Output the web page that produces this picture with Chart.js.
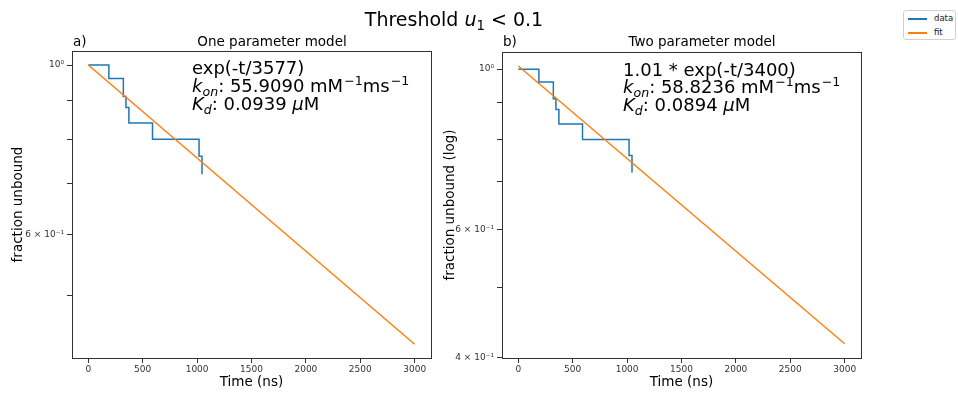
<!DOCTYPE html>
<html>
<head>
<meta charset="utf-8">
<script src="https://cdn.jsdelivr.net/npm/chart.js@4.4.1/dist/chart.umd.min.js"></script>
<style>
  body { margin: 0; width: 958px; height: 398px; background: #fff; position: relative; overflow: hidden;
         font-family: "DejaVu Sans", sans-serif; color: #000; }
  canvas { position: absolute; top: 0; }
  .t { position: absolute; white-space: nowrap; line-height: 1; }
  .c { transform: translate(-50%, -50%); }
  .m { transform: translateY(-50%); }
  .sub { font-size: 0.7em; position: relative; top: 0.3em; }
  .sup { font-size: 0.7em; position: relative; top: -0.55em; margin-left: 1px; }
  .legend { position: absolute; left: 903px; top: 10px; width: 51px; height: 28px; border: 1px solid #d0d0d0;
            border-radius: 3px; background: #fff; font-size: 8.5px; }
  .legend div { position: absolute; left: 4px; height: 12px; }
  .legend span.ln { position: absolute; left: 0; top: 5px; width: 19px; height: 1.5px; }
  .legend span.lb { position: absolute; left: 26px; top: 0; line-height: 11px; color: #222; }
</style>
</head>
<body>
<canvas id="chartA" width="440" height="398" style="left:0px"></canvas>
<canvas id="chartB" width="522" height="398" style="left:436px"></canvas>

<div class="t c" style="left:454px; top:19px; font-size:19px;">Threshold <i>u</i><span class="sub">1</span> &lt; 0.1</div>

<div class="t m" style="left:73px; top:42px; font-size:13.5px;">a)</div>
<div class="t c" style="left:272px; top:42px; font-size:13.5px;">One parameter model</div>
<div class="t m" style="left:503px; top:42px; font-size:13.5px;">b)</div>
<div class="t c" style="left:702px; top:42px; font-size:13.5px;">Two parameter model</div>

<div class="t m" style="left:192px; top:68px; font-size:18px;">exp(-t/3577)</div>
<div class="t m" style="left:192px; top:86px; font-size:18px;"><i>k</i><span class="sub"><i>on</i></span>: 55.9090 mM<span class="sup">−1</span>ms<span class="sup">−1</span></div>
<div class="t m" style="left:192px; top:104px; font-size:18px;"><i>K</i><span class="sub"><i>d</i></span>: 0.0939 <i>μ</i>M</div>

<div class="t m" style="left:623px; top:70px; font-size:18px;">1.01 * exp(-t/3400)</div>
<div class="t m" style="left:623px; top:87px; font-size:18px;"><i>k</i><span class="sub"><i>on</i></span>: 58.8236 mM<span class="sup">−1</span>ms<span class="sup">−1</span></div>
<div class="t m" style="left:623px; top:105px; font-size:18px;"><i>K</i><span class="sub"><i>d</i></span>: 0.0894 <i>μ</i>M</div>

<div class="legend">
  <div style="top:2px;"><span class="ln" style="background:#1f77b4"></span><span class="lb">data</span></div>
  <div style="top:16px;"><span class="ln" style="background:#ff7f0e"></span><span class="lb">fit</span></div>
</div>

<script>
// measured step data (same events for both fits)
const dataTime = [0, 189, 322, 346, 373, 590, 1018, 1045];
const dataFraction = [1.0, 0.96, 0.91, 0.88, 0.84, 0.80, 0.76, 0.72];

// fit lines: straight on a log axis, so the two ends are enough
const fitTime = [0, 3000];
const fitOneParam = [1.0, 0.432];
const fitTwoParam = [1.01, 0.418];

const timeTicks = [0, 500, 1000, 1500, 2000, 2500, 3000];
const yTicksA = [0.5, 0.6, 0.7, 0.8, 0.9, 1.0];
const yTicksB = [0.4, 0.5, 0.6, 0.7, 0.8, 0.9, 1.0];
const yLabelsA = {'1': '10⁰', '0.6': '6 × 10⁻¹'};
const yLabelsB = {'1': '10⁰', '0.6': '6 × 10⁻¹', '0.4': '4 × 10⁻¹'};

const framePlugin = {
  id: 'frame',
  afterDatasetsDraw(chart) {
    const a = chart.chartArea;
    const ctx = chart.ctx;
    ctx.save();
    ctx.strokeStyle = '#333';
    ctx.lineWidth = 1;
    ctx.strokeRect(Math.round(a.left) + 0.5, Math.round(a.top) + 0.5,
                   Math.round(a.right - a.left), Math.round(a.bottom - a.top));
    ctx.restore();
  }
};

function pairs(xs, ys) {
  return xs.map((x, i) => ({x: x, y: ys[i]}));
}

function makePanel(id, fitValues, yMin, yMax, yTicks, yLabels, yTitle, yWidth, titlePad, padTop, padRight) {
  const ctx = document.getElementById(id).getContext('2d');
  return new Chart(ctx, {
    type: 'line',
    data: {
      datasets: [
        {
          label: 'data',
          data: pairs(dataTime, dataFraction),
          borderColor: '#1f77b4',
          borderWidth: 1.5,
          stepped: 'before',
          pointRadius: 0,
          fill: false,
          order: 1
        },
        {
          label: 'fit',
          data: pairs(fitTime, fitValues),
          borderColor: '#ff7f0e',
          borderWidth: 1.5,
          pointRadius: 0,
          fill: false,
          order: 0
        }
      ]
    },
    options: {
      responsive: false,
      animation: false,
      layout: {padding: {top: padTop, right: padRight, left: 0, bottom: 0}},
      plugins: {legend: {display: false}, tooltip: {enabled: false}},
      scales: {
        x: {
          type: 'linear',
          min: -150,
          max: 3150,
          afterBuildTicks: (s) => { s.ticks = timeTicks.map(v => ({value: v})); },
          afterFit: (s) => { s.height = 40; },
          border: {display: false},
          grid: {drawOnChartArea: false, tickLength: 5, tickColor: '#333'},
          ticks: {autoSkip: false, maxRotation: 0, padding: 1, color: '#333',
                  font: {family: 'DejaVu Sans', size: 9},
                  callback: (v) => String(v)},
          title: {display: true, text: 'Time (ns)', color: '#000',
                  font: {family: 'DejaVu Sans', size: 13.5}, padding: {top: 0, bottom: 7}}
        },
        y: {
          type: 'logarithmic',
          min: yMin,
          max: yMax,
          afterBuildTicks: (s) => { s.ticks = yTicks.map(v => ({value: v})); },
          afterFit: (s) => { s.width = yWidth; },
          border: {display: false},
          grid: {drawOnChartArea: false, tickLength: 5, tickColor: '#333'},
          ticks: {
            autoSkip: false, padding: 3, color: '#333',
            font: {family: 'DejaVu Sans', size: 9},
            callback: (v) => yLabels[String(Math.round(v * 10) / 10)] || ''
          },
          title: {display: true, text: yTitle, color: '#000',
                  font: {family: 'DejaVu Sans', size: 13.5}, padding: {top: titlePad, bottom: 0}}
        }
      }
    },
    plugins: [framePlugin]
  });
}

makePanel('chartA', fitOneParam, 0.4145, 1.043, yTicksA, yLabelsA, 'fraction unbound', 72, 10, 51, 9);
makePanel('chartB', fitTwoParam, 0.3995, 1.056, yTicksB, yLabelsB, 'fraction unbound (log)', 66, 6, 52, 97);
</script>
</body>
</html>
